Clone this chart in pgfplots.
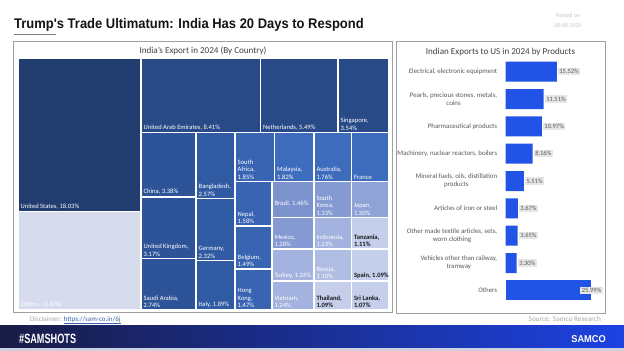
\documentclass[border=0pt]{standalone}
\usepackage{pgfplots}
\pgfplotsset{compat=1.18}
\usepackage{fontspec}
\setmainfont{Carlito}
\newfontfamily\titlefont[FakeStretch=0.93]{Liberation Sans}
\newfontfamily\hashfont[FakeStretch=0.68]{Liberation Sans}
\definecolor{cUS}{RGB}{33,60,110}
\definecolor{cA}{RGB}{40,74,135}
\definecolor{cB}{RGB}{45,84,152}
\definecolor{cC}{RGB}{48,91,163}
\definecolor{cD}{RGB}{56,100,178}
\definecolor{cE}{RGB}{62,108,188}
\definecolor{cF}{RGB}{125,147,206}
\definecolor{cG}{RGB}{133,154,210}
\definecolor{cH}{RGB}{143,163,214}
\definecolor{cI}{RGB}{163,178,222}
\definecolor{cJ}{RGB}{176,189,227}
\definecolor{cK}{RGB}{197,206,234}
\definecolor{cOth}{RGB}{214,219,238}
\definecolor{barblue}{RGB}{33,83,230}
\definecolor{lblgray}{RGB}{230,230,230}
\definecolor{txtgray}{RGB}{89,89,89}
\definecolor{ttlgray}{RGB}{64,64,64}
\definecolor{panelgray}{RGB}{160,160,160}
\definecolor{bandL}{RGB}{25,28,70}
\definecolor{bandR}{RGB}{28,66,225}
\newcommand{\tmfont}{\fontsize{6.6}{7.4}\selectfont}
% rectangle with white label at bottom-left
\newcommand{\rect}[6]{%
  \addplot[fill=#5, draw=white, line width=1.5bp] coordinates {(#1,#2) (#3,#2) (#3,#4) (#1,#4)} -- cycle;
  \node[anchor=south west, align=left, inner sep=0pt, text=white, font=\tmfont] at (axis cs:{#1+2.5},{#4-2.2}) {#6};}
\newcommand{\rectd}[6]{%
  \addplot[fill=#5, draw=white, line width=1.5bp] coordinates {(#1,#2) (#3,#2) (#3,#4) (#1,#4)} -- cycle;
  \node[anchor=south west, align=left, inner sep=0pt, text=black!90, font=\tmfont\bfseries] at (axis cs:{#1+2.5},{#4-2.2}) {#6};}
\begin{document}
\begin{tikzpicture}
\begin{axis}[name=main, at={(0,0)}, anchor=south west,
  width=624bp, height=351bp, scale only axis,
  xmin=0, xmax=624, ymin=0, ymax=351, y dir=reverse,
  hide axis, clip=false]
% background
\addplot[fill=white, draw=none] coordinates {(0,0) (624,0) (624,351) (0,351)} -- cycle;
% title
\node[anchor=base west, inner sep=0pt, font=\titlefont\bfseries\fontsize{14}{16}\selectfont, text=black!92] at (axis cs:14,29) {Trump's Trade Ultimatum: India Has 20 Days to Respond};
\addplot[draw=gray, line width=0.9bp] coordinates {(14,34.5) (56,34.5)};
\node[align=center, inner sep=0pt, text=black!22, font=\fontsize{6}{9.5}\selectfont] at (axis cs:568,20.5) {Posted on\\08-08-2025};
% panels
\addplot[draw=panelgray, line width=0.9bp, fill=white] coordinates {(13,41) (392,41) (392,312) (13,312)} -- cycle;
\addplot[draw=panelgray, line width=0.9bp, fill=white] coordinates {(396,41) (605,41) (605,313) (396,313)} -- cycle;
\node[inner sep=0pt, text=ttlgray, font=\fontsize{9.1}{10}\selectfont] at (axis cs:203,50.5) {India's Export in 2024 (By Country)};
\node[inner sep=0pt, text=ttlgray, font=\fontsize{9.1}{10}\selectfont] at (axis cs:500.5,52.3) {Indian Exports to US in 2024 by Products};
% treemap
\rect{18}{58}{141}{211.5}{cUS}{United States, 18.03\%}
\rect{18}{211.5}{141}{310}{cOth}{Others, 11.83\%}
\rect{141}{58}{260.5}{132.5}{cA}{United Arab Emirates, 8.41\%}
\rect{260.5}{58}{338}{132.5}{cA}{Netherlands, 5.49\%}
\rect{338}{58}{389}{132.5}{cA}{Singapore,\\3.54\%}
\rect{141}{132.5}{196}{197}{cB}{China, 3.38\%}
\rect{141}{197}{196}{258.5}{cB}{United Kingdom,\\3.17\%}
\rect{141}{258.5}{196}{310}{cB}{Saudi Arabia,\\2.74\%}
\rect{196}{132.5}{235}{198.5}{cC}{Bangladesh,\\2.57\%}
\rect{196}{198.5}{235}{260.5}{cC}{Germany,\\2.32\%}
\rect{196}{260.5}{235}{310}{cC}{Italy, 1.89\%}
\rect{235}{132.5}{274.5}{181.5}{cD}{South\\Africa,\\1.85\%}
\rect{274.5}{132.5}{313.8}{181.5}{cE}{Malaysia,\\1.82\%}
\rect{313.8}{132.5}{351.3}{181.5}{cE}{Australia,\\1.76\%}
\rect{351.3}{132.5}{389}{181.5}{cE}{France}
\rect{235}{181.5}{271.8}{226}{cD}{Nepal,\\1.58\%}
\rect{235}{226}{271.8}{269}{cD}{Belgium,\\1.49\%}
\rect{235}{269}{271.8}{310}{cD}{Hong\\Kong,\\1.47\%}
\rect{271.8}{181.5}{313.8}{217.5}{cF}{Brazil, 1.46\%\\[0pt]\strut}
\rect{313.8}{181.5}{351.3}{217.5}{cG}{South\\Korea,\\1.33\%}
\rect{351.3}{181.5}{389}{217.5}{cH}{Japan,\\1.30\%}
\rect{271.8}{217.5}{313.8}{249}{cG}{Mexico,\\1.28\%}
\rect{313.8}{217.5}{351.3}{249}{cI}{Indonesia,\\1.23\%}
\rectd{351.3}{217.5}{389}{249}{cK}{Tanzania,\\1.11\%}
\rect{271.8}{249}{313.8}{281}{cI}{Turkey, 1.26\%}
\rect{313.8}{249}{351.3}{281}{cJ}{Russia,\\1.10\%}
\rectd{351.3}{249}{389}{281}{cK}{Spain, 1.09\%}
\rect{271.8}{281}{313.8}{310}{cI}{Vietnam,\\1.24\%}
\rectd{313.8}{281}{351.3}{310}{cK}{Thailand,\\1.09\%}
\rectd{351.3}{281}{389}{310}{cK}{Sri Lanka,\\1.07\%}
% footer
\node[anchor=base west, inner sep=0pt, font=\fontsize{7}{8}\selectfont] at (axis cs:30,321) {\textcolor{black!35}{Disclaimer:} \textcolor[RGB]{60,100,170}{\underline{https://sam-co.in/6j}}};
\node[anchor=base east, inner sep=0pt, font=\fontsize{7.3}{8}\selectfont, text=black!35] at (axis cs:601,321) {Source: Samco Research};
\addplot[left color=bandL, right color=bandR, draw=none] coordinates {(0,325.5) (624,325.5) (624,347.5) (0,347.5)} -- cycle;
\addplot[fill={rgb,255:red,205;green,208;blue,220}, draw=none] coordinates {(0,347.5) (624,347.5) (624,351) (0,351)} -- cycle;
\node[anchor=base west, inner sep=0pt, text=white, font=\hashfont\bfseries\fontsize{13.5}{14}\selectfont] at (axis cs:19,343) {\#SAMSHOTS};
\node[anchor=base east, inner sep=0pt, text=white, font=\titlefont\bfseries\fontsize{10}{11}\selectfont] at (axis cs:606,342) {SAMCO};
\end{axis}
% bar chart
\begin{axis}[at={(505.7bp,47bp)}, anchor=south west, scale only axis,
  width=98.7bp, height=246bp, xmin=0, xmax=30, ymin=-0.5, ymax=8.5,
  y dir=reverse, xbar, bar width=20bp, bar shift=0pt,
  axis line style={draw=none}, xtick=\empty, ytick={0,...,8},
  major tick length=0pt,
  yticklabels={{Electrical, electronic equipment},{Pearls, precious stones, metals,\\coins},{Pharmaceutical products},{Machinery, nuclear reactors, boilers},{Mineral fuels, oils, distillation\\products},{Articles of iron or steel},{Other made textile articles, sets,\\worn clothing},{Vehicles other than railway,\\tramway},{Others}},
  yticklabel style={font=\fontsize{6.9}{8.3}\selectfont, text=txtgray, align=center, xshift=-5bp},
  point meta=explicit symbolic, nodes near coords,
  nodes near coords style={anchor=west, fill=lblgray, text=txtgray, font=\fontsize{6.5}{7}\selectfont, inner sep=1.5bp, xshift=1bp},
  clip=false]
\addplot[fill=barblue, draw=none] coordinates {
 (15.52,0) [15.52\%]
 (11.51,1) [11.51\%]
 (10.97,2) [10.97\%]
 (8.16,3) [8.16\%]
 (5.51,4) [5.51\%]
 (3.67,5) [3.67\%]
 (3.65,6) [3.65\%]
 (3.30,7) [3.30\%]
};
\addplot[fill=barblue, draw=none, nodes near coords style={xshift=-12bp}] coordinates {
 (25.99,8) [25.99\%]
};
\end{axis}
\end{tikzpicture}
\end{document}
